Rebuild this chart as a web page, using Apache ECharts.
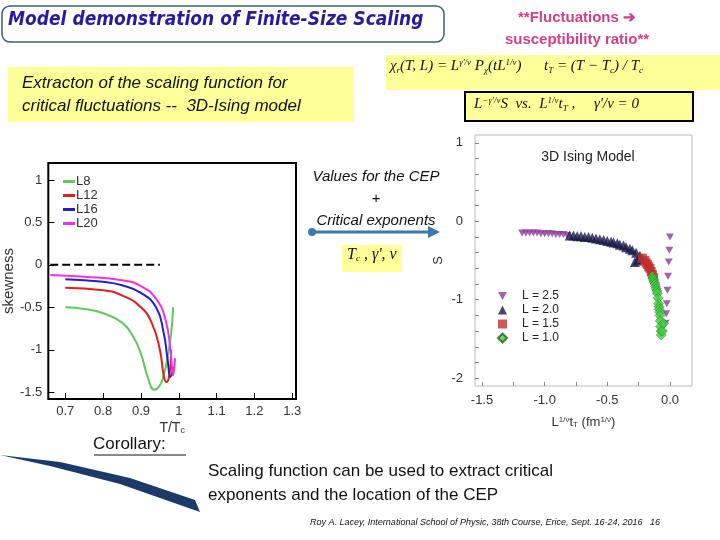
<!DOCTYPE html>
<html><head><meta charset="utf-8">
<script src="https://cdn.jsdelivr.net/npm/echarts@6/dist/echarts.min.js"></script>
<style>html,body{margin:0;padding:0;background:#fff}#c{width:720px;height:540px}</style>
</head><body><div id="c"></div>
<script>
// Left chart: skewness vs T/Tc
const leftXTicks = [0.7,0.8,0.9,1,1.1,1.2,1.3];
const leftYTicks = [-1.5,-1,-0.5,0,0.5,1];
const L8  = [[0.7,-0.5],[0.75,-0.52],[0.8,-0.57],[0.85,-0.68],[0.88,-0.85],[0.9,-1.05],[0.92,-1.35],[0.935,-1.47],[0.95,-1.42],[0.96,-1.3],[0.97,-1.1],[0.98,-0.8],[0.985,-0.5]];
const L12 = [[0.7,-0.27],[0.8,-0.3],[0.85,-0.36],[0.9,-0.5],[0.93,-0.7],[0.95,-1.0],[0.96,-1.3],[0.967,-1.38],[0.975,-1.3],[0.98,-1.0]];
const L16 = [[0.7,-0.17],[0.8,-0.2],[0.85,-0.24],[0.9,-0.33],[0.94,-0.5],[0.96,-0.8],[0.97,-1.1],[0.978,-1.32],[0.985,-1.2]];
const L20 = [[0.66,-0.12],[0.75,-0.14],[0.85,-0.18],[0.9,-0.25],[0.94,-0.4],[0.965,-0.65],[0.978,-1.0],[0.985,-1.3],[0.99,-1.1]];
const zeroLine = [[0.66,0],[0.95,0]];
// Right chart: S vs L^{1/nu} t_T
const rightTitle = '3D Ising Model';
const rightXTicks = [-1.5,-1.0,-0.5,0.0];
const rightYTicks = [-2,-1,0,1];
const S25 = [[-1.18,-0.15],[-1.15,-0.15],[-1.12,-0.15],[-1.09,-0.15],[-1.06,-0.15],[-1.03,-0.16],[-1.0,-0.16],[-0.97,-0.16],[-0.94,-0.16],[-0.91,-0.17],[-0.88,-0.17],[-0.85,-0.17],[-0.82,-0.18],[0.0,-0.2],[-0.005,-0.37],[-0.01,-0.52],[-0.015,-0.7],[-0.02,-0.88],[-0.025,-1.05],[-0.03,-1.18],[-0.035,-1.3]];
const S20 = [[-0.8,-0.18],[-0.77,-0.18],[-0.74,-0.19],[-0.71,-0.19],[-0.68,-0.2],[-0.65,-0.2],[-0.62,-0.21],[-0.59,-0.22],[-0.56,-0.23],[-0.53,-0.24],[-0.5,-0.25],[-0.47,-0.26],[-0.45,-0.27],[-0.42,-0.28],[-0.4,-0.3],[-0.37,-0.31],[-0.35,-0.33],[-0.32,-0.35],[-0.3,-0.37],[-0.27,-0.4],[-0.24,-0.44],[-0.28,-0.52],[-0.26,-0.5],[-0.22,-0.48]];
const S15 = [[-0.22,-0.47],[-0.2,-0.5],[-0.19,-0.53],[-0.18,-0.55],[-0.17,-0.58],[-0.16,-0.6],[-0.15,-0.64],[-0.14,-0.68],[-0.13,-0.72]];
const S10 = [[-0.14,-0.7],[-0.135,-0.73],[-0.13,-0.75],[-0.125,-0.78],[-0.12,-0.8],[-0.115,-0.83],[-0.11,-0.86],[-0.105,-0.89],[-0.1,-0.92],[-0.095,-0.98],[-0.09,-1.05],[-0.087,-1.09],[-0.085,-1.12],[-0.082,-1.16],[-0.08,-1.2],[-0.078,-1.27],[-0.075,-1.34],[-0.072,-1.4],[-0.07,-1.45],[-0.06,-1.4],[-0.05,-1.3]];

const downTri = 'path://M0,0 L10,0 L5,9 Z';
const chart = echarts.init(document.getElementById('c'));
const axisTxt = {color:'#333', fontSize:13, fontFamily:'Liberation Sans'};
const formRich = {
  sup:{fontSize:9, verticalAlign:'top', fontFamily:'Liberation Serif', fontStyle:'italic', padding:[0,0,8,0]},
  sub:{fontSize:9, fontFamily:'Liberation Serif', fontStyle:'italic', padding:[8,0,0,0]}
};
chart.setOption({
  animation:false,
  title:{text:rightTitle, left:583, top:145, textAlign:'center', textStyle:{fontSize:14, fontWeight:'normal', color:'#222', fontFamily:'Liberation Sans'}},
  grid:[
    {left:48, top:163, width:248, height:236, show:true, borderColor:'#000', borderWidth:2, backgroundColor:'#fff'},
    {left:475, top:135, width:217, height:251, show:true, borderColor:'#bbb', borderWidth:1, backgroundColor:'#fff'}
  ],
  legend:[
    {left:58, top:170, orient:'vertical', itemGap:1, itemWidth:12, itemHeight:3, icon:'rect',
     data:['L8','L12','L16','L20'], textStyle:{fontSize:13, color:'#333', padding:[0,0,0,-4]}},
    {left:492, top:285, orient:'vertical', itemGap:2, itemWidth:9, itemHeight:9,
     data:[{name:'L = 2.5', icon:downTri},{name:'L = 2.0', icon:'triangle'},{name:'L = 1.5', icon:'rect'},{name:'L = 1.0', icon:'diamond'}],
     textStyle:{fontSize:12, color:'#222', padding:[0,0,0,10]}}
  ],
  xAxis:[
    {gridIndex:0, type:'value', min:0.655, max:1.31,
     axisLine:{show:false, onZero:false}, splitLine:{show:false},
     axisTick:{show:true, inside:true, customValues:leftXTicks, length:6, lineStyle:{color:'#000'}},
     axisLabel:{customValues:leftXTicks, ...axisTxt, margin:6},
     name:'T/T{s|c}', nameLocation:'middle', nameGap:22,
     nameTextStyle:{...axisTxt, fontSize:14, rich:{s:{fontSize:9, verticalAlign:'bottom'}}}},
    {gridIndex:1, type:'value', min:-1.556, max:0.176,
     axisLine:{show:false, onZero:false}, splitLine:{show:false},
     axisTick:{show:true, inside:true, customValues:[-1.5,-1.25,-1,-0.75,-0.5,-0.25,0], length:4, lineStyle:{color:'#888'}},
     axisLabel:{customValues:rightXTicks, ...axisTxt, margin:8, formatter:v=>v.toFixed(1)},
     name:'L{p|1/ν}t{s|T} (fm{p|1/ν})', nameLocation:'middle', nameGap:30,
     nameTextStyle:{...axisTxt, fontSize:13, rich:{p:{fontSize:8, verticalAlign:'top'}, s:{fontSize:8, verticalAlign:'bottom'}}}}
  ],
  yAxis:[
    {gridIndex:0, type:'value', min:-1.58, max:1.2,
     axisLine:{show:false, onZero:false}, splitLine:{show:false},
     axisTick:{show:true, inside:true, customValues:leftYTicks, length:6, lineStyle:{color:'#000'}},
     axisLabel:{customValues:leftYTicks, ...axisTxt, margin:6},
     name:'skewness', nameLocation:'middle', nameGap:28, nameTextStyle:{...axisTxt, fontSize:15}},
    {gridIndex:1, type:'value', min:-2.1, max:1.1,
     axisLine:{show:false, onZero:false}, splitLine:{show:false},
     axisTick:{show:true, inside:true, customValues:[-2,-1.8,-1.6,-1.4,-1.2,-1,-0.8,-0.6,-0.4,-0.2,0,0.2,0.4,0.6,0.8,1], length:4, lineStyle:{color:'#888'}},
     axisLabel:{customValues:rightYTicks, ...axisTxt, margin:12},
     name:'S', nameLocation:'middle', nameGap:30, nameTextStyle:{...axisTxt, fontSize:13}}
  ],
  series:[
    {name:'L8', type:'line', xAxisIndex:0, yAxisIndex:0, data:L8, smooth:true, showSymbol:false, color:'#5fc85f', lineStyle:{width:2}},
    {name:'L12', type:'line', xAxisIndex:0, yAxisIndex:0, data:L12, smooth:true, showSymbol:false, color:'#e02020', lineStyle:{width:2}},
    {name:'L16', type:'line', xAxisIndex:0, yAxisIndex:0, data:L16, smooth:true, showSymbol:false, color:'#2020d0', lineStyle:{width:2}},
    {name:'L20', type:'line', xAxisIndex:0, yAxisIndex:0, data:L20, smooth:true, showSymbol:false, color:'#f030f0', lineStyle:{width:2}},
    {type:'line', xAxisIndex:0, yAxisIndex:0, data:zeroLine, showSymbol:false, color:'#000', lineStyle:{width:2, type:'dashed'}},
    {name:'L = 2.5', type:'scatter', xAxisIndex:1, yAxisIndex:1, data:S25, symbol:downTri, symbolSize:[8,7], color:'#8e3a9a'},
    {name:'L = 2.0', type:'scatter', xAxisIndex:1, yAxisIndex:1, data:S20, symbol:'triangle', symbolSize:10, color:'#1a1a4a'},
    {name:'L = 1.5', type:'scatter', xAxisIndex:1, yAxisIndex:1, data:S15, symbol:'rect', symbolSize:9, color:'#c03030'},
    {name:'L = 1.0', type:'scatter', xAxisIndex:1, yAxisIndex:1, data:S10, symbol:'diamond', symbolSize:10, color:'#40d040', itemStyle:{borderColor:'#206020', borderWidth:0.5}}
  ],
  graphic:[
    {type:'rect', shape:{x:2, y:6, width:442, height:36, r:8}, style:{fill:'#fff', stroke:'#3a6070', lineWidth:1.5}},
    {type:'text', left:8, top:11, style:{text:'Model demonstration of Finite-Size Scaling', font:'italic bold 19px "DejaVu Sans Condensed", "Liberation Sans"', fill:'#2a1aa0'}},
    {type:'text', x:577, y:7, style:{text:'**Fluctuations ➔\nsusceptibility ratio**', font:'bold 15px "Liberation Sans"', fill:'#d0408a', lineHeight:22, align:'center'}},
    {type:'rect', shape:{x:8, y:67, width:346, height:55}, style:{fill:'#ffff99'}},
    {type:'text', left:22, top:72, style:{text:'Extracton of the scaling function for\ncritical fluctuations --  3D-Ising model', font:'italic 17px "Liberation Sans"', fill:'#111', lineHeight:23}},
    {type:'rect', shape:{x:386, y:55, width:334, height:35}, style:{fill:'#ffff99'}},
    {type:'text', left:390, top:58, style:{text:'χ{sub|r}(T, L) = L{sup|γ\'/ν} P{sub|χ}(tL{sup|1/ν})      t{sub|T} = (T − T{sub|c}) / T{sub|c}', font:'italic 15px "Liberation Serif"', fill:'#111', rich:formRich}},
    {type:'rect', shape:{x:465, y:92, width:228, height:29}, style:{fill:'#ffff99', stroke:'#000', lineWidth:2}},
    {type:'text', left:474, top:96, style:{text:'L{sup|−γ\'/ν}S  vs.  L{sup|1/ν}t{sub|T} ,     γ\'/ν = 0', font:'italic 15px "Liberation Serif"', fill:'#111', rich:formRich}},
    {type:'rect', shape:{x:299, y:163, width:158, height:68}, style:{fill:'#fff'}},
    {type:'text', x:376, y:166, style:{text:'Values for the CEP\n+\nCritical exponents', font:'italic 15px "Liberation Sans"', fill:'#111', lineHeight:22, align:'center'}},
    {type:'line', shape:{x1:312, y1:232, x2:430, y2:232}, style:{stroke:'#3a78b0', lineWidth:3}},
    {type:'circle', shape:{cx:312, cy:232, r:4}, style:{fill:'#3a78b0'}},
    {type:'polygon', shape:{points:[[440,232],[428,226],[428,238]]}, style:{fill:'#3a78b0'}},
    {type:'rect', shape:{x:342, y:245, width:60, height:27}, style:{fill:'#ffff99'}},
    {type:'text', left:347, top:247, style:{text:'T{sub|c} , γ\', ν', font:'italic 16px "Liberation Serif"', fill:'#111', rich:formRich}},
    {type:'text', left:93, top:436, style:{text:'Corollary:', font:'17px "Liberation Sans"', fill:'#111'}},
    {type:'line', shape:{x1:94, y1:455, x2:186, y2:455}, style:{stroke:'#111', lineWidth:1}},
    {type:'polygon', shape:{points:[[0,455],[60,462],[130,478],[195,500],[200,512],[120,484],[50,466]]}, style:{fill:'#1a3a6a'}},
    {type:'text', left:208, top:459, style:{text:'Scaling function can be used to extract critical\nexponents and the location of the CEP', font:'17px "Liberation Sans"', fill:'#111', lineHeight:24}},
    {type:'text', left:310, top:518, style:{text:'Roy A. Lacey, International School of Physic, 38th Course, Erice, Sept. 16-24, 2016   16', font:'italic 9px "Liberation Sans"', fill:'#111'}}
  ]
});
</script></body></html>
